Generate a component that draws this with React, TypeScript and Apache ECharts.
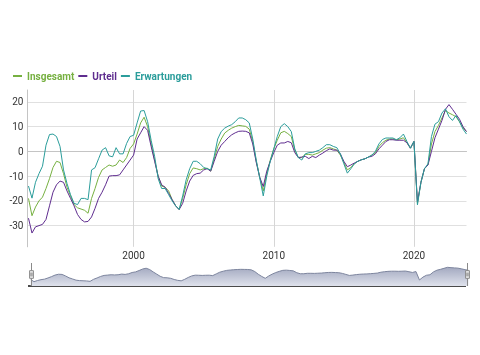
import { useEffect, useRef } from 'react';
import * as echarts from 'echarts';

// Quarterly values, first point = mid 1992, step = one quarter
const START_YEAR = 1992.5;
const STEP = 0.25;

const insgesamt = [
  -19, -26,
  -22.5, -20, -18.5, -15,
  -11, -6.5, -4, -4.5,
  -9, -14.5, -18, -21.5,
  -22.8, -23.3, -23.8, -25,
  -19, -15, -10.5, -7.5,
  -6.5, -5.5, -6, -5.5,
  -3.5, -4.5, -2.5, 1.2,
  3, 7, 11.5, 13.8,
  10, 3, -3.5, -10,
  -14, -14.5, -16, -19.5,
  -22, -23.5, -19, -13.5,
  -9, -6.7, -7, -7.5,
  -7, -6.8, -8, -3,
  2, 5, 7.4, 8.5,
  9.4, 10, 10.5, 10.3,
  10.1, 9, 4, -4,
  -10.5, -16, -9, -3.5,
  1, 4.5, 7.5, 8.1,
  7.2, 6, 0.5, -2.5,
  -2.5, -1.2, -1.2, -1.5,
  -1, -0.5, 0.5, 1.3,
  1.5, 1, 0.5, -1.5,
  -4.5, -7.5, -6.5, -5,
  -4, -3.4, -3, -2.3,
  -1.5, -0.5, 2, 3.5,
  4.5, 5, 5, 4.7,
  5, 5.5, 3.5, 1.3,
  4, -21, -12.5, -7,
  -5.5, 3, 8, 10.5,
  13.5, 16.5, 15.5, 14.8,
  14, 12, 9.5, 8,
];

const urteil = [
  -27, -33,
  -30.5, -30, -29.5, -27.5,
  -22, -16.5, -13.5, -12,
  -12.5, -16, -19, -22,
  -25.5, -27.5, -28.5, -28.3,
  -26.5, -23, -19, -16.5,
  -13.5, -10, -9.8, -9.8,
  -9.5, -7.5, -5.5, -3.5,
  -1.5, 5, 7.5, 10,
  8.5, 2, -4, -10,
  -13.5, -14.5, -17, -19.5,
  -22, -23.5, -21, -16,
  -12, -9.7, -9, -8.8,
  -7.5, -7, -8, -4,
  0, 2.5, 4, 5.5,
  6.7, 7.5, 8.1, 8.2,
  8.1, 7.5, 3, -4.5,
  -10.5, -14.2, -8, -4,
  -0.5, 2.5, 3.4, 3.4,
  4, 3.5, -0.5, -2.5,
  -2.3, -2, -2.9, -2,
  -2.5, -1.5, -0.7, 0.3,
  1, 0.5, 0.5, -1,
  -4, -6.2, -5.5, -4.7,
  -4, -3.4, -3, -2.3,
  -2, -1, 1, 2.5,
  4, 4.7, 4.7, 4.5,
  4.5, 4.5, 3.5, 1.3,
  4, -20.5, -12.5, -7,
  -5.5, 0, 5.5, 9,
  12.5, 17, 18.9, 17,
  15, 13, 10, 8,
];

const erwartungen = [
  -14, -18.9,
  -12.5, -9, -6, 2.5,
  6.8, 7, 6, 2,
  -7.5, -13, -17.5, -21,
  -21.5, -19, -19, -19.5,
  -7.5, -6.6, -3, 0.5,
  1.5, -1.8, -2.2, 1.5,
  -1, -1, 3.2, 6,
  6.5, 11.5, 16.3, 16.5,
  12, 4.5, -2, -11,
  -15, -15, -17.5, -20,
  -22, -23.5, -18, -11.5,
  -7, -4, -4, -5,
  -6.5, -7, -7.5, -2,
  5, 8, 9.4, 10.2,
  10.8, 12, 13.5, 13.5,
  12.8, 11.5, 5, -3.5,
  -10.8, -18, -10, -4,
  1, 6, 10, 11.2,
  10, 8, 1, -2.5,
  -3.5, -1, -0.5, -0.5,
  0, 0.5, 1.5, 2.7,
  2.7, 2, 1.5, -1,
  -5, -8.8, -7, -5,
  -4, -3.4, -3, -2.3,
  -1.5, 0, 3, 4.8,
  5.4, 5.4, 5.4, 4.7,
  5.5, 7, 4, 1.3,
  4, -21.6, -12.5, -7,
  -5, 6, 11, 12,
  15.5, 17.2, 14, 12.5,
  14.5, 12, 9, 7,
];

const seriesNames = ['Insgesamt', 'Urteil', 'Erwartungen'];
const seriesColors = ['#76b041', '#5f2d8f', '#2b9d9b'];
const X_MIN = 1992.43;
const X_MAX = 2023.75;
const Y_MIN = -38.56;
const Y_MAX = 24.8;

const toPoints = (values: number[]) => values.map((v, i) => [START_YEAR + i * STEP, v]);

const HANDLE_ICON =
  'path://M2.5,0 L2.5,8 M0.5,8 L4.5,8 L4.5,16 L0.5,16 Z M2.5,16 L2.5,24 M1.9,10 L1.9,14 M3.1,10 L3.1,14';

export default function App() {
  const ref = useRef<HTMLDivElement>(null);
  useEffect(() => {
    const chart = echarts.init(ref.current!, null, { renderer: 'svg' });
    const font = 'Roboto, "DejaVu Sans", sans-serif';
    const valueSets = [insgesamt, urteil, erwartungen];
    const navArea = {
      color: new echarts.graphic.LinearGradient(0, 0, 0, 1, [
        { offset: 0, color: '#dfe2ec' },
        { offset: 1, color: '#a3a9c0' },
      ]),
      opacity: 1,
    };
    const navLine = { color: '#7d859e', width: 1, opacity: 1 };
    chart.setOption({
      animation: false,
      textStyle: { fontFamily: font },
      legend: {
        left: 8,
        top: 66,
        icon: 'rect',
        itemWidth: 9,
        itemHeight: 2,
        itemGap: 4,
        selectedMode: false,
        data: seriesNames.map((n, i) => ({ name: n, textStyle: { color: seriesColors[i] } })),
        textStyle: { fontSize: 10, fontWeight: 'bold', fontFamily: font },
      },
      grid: { left: 27.5, right: 13.5, top: 90, bottom: 108.2 },
      xAxis: {
        type: 'value',
        min: X_MIN,
        max: X_MAX,
        minInterval: 10,
        maxInterval: 10,
        axisLine: { show: true, lineStyle: { color: '#c4c4c4', width: 1 } },
        axisTick: { show: false },
        axisLabel: {
          showMinLabel: false,
          showMaxLabel: false,
          color: '#333',
          fontSize: 10,
          margin: 4,
          formatter: (v: number) => String(Math.round(v)),
        },
        splitLine: {
          show: true,
          showMinLine: false,
          showMaxLine: false,
          lineStyle: { color: '#d6d6d6', width: 1 },
        },
      },
      yAxis: {
        type: 'value',
        min: Y_MIN,
        max: Y_MAX,
        minInterval: 10,
        maxInterval: 10,
        axisLine: { show: true, lineStyle: { color: '#c4c4c4', width: 1 } },
        axisTick: { show: false },
        axisLabel: {
          showMinLabel: false,
          showMaxLabel: false,
          color: '#333',
          fontSize: 10,
          margin: 4,
        },
        splitLine: {
          show: true,
          showMinLine: false,
          showMaxLine: false,
          lineStyle: { color: '#e0e0e0', width: 1 },
        },
      },
      dataZoom: [
        {
          type: 'slider',
          xAxisIndex: 0,
          filterMode: 'none',
          start: 0,
          end: 100,
          left: 28,
          right: 14,
          top: 263,
          height: 23,
          backgroundColor: 'rgba(0,0,0,0)',
          borderColor: 'rgba(0,0,0,0)',
          fillerColor: 'rgba(0,0,0,0)',
          showDetail: false,
          brushSelect: false,
          moveHandleSize: 0,
          moveHandleStyle: { opacity: 0 },
          handleIcon: HANDLE_ICON,
          handleSize: '100%',
          handleStyle: { color: '#f2f2f2', borderColor: '#8a8a8a', borderWidth: 1 },
          emphasis: { handleStyle: { color: '#f2f2f2', borderColor: '#8a8a8a', borderWidth: 1 } },
          dataBackground: { lineStyle: navLine, areaStyle: navArea },
          selectedDataBackground: { lineStyle: navLine, areaStyle: navArea },
        },
      ],
      series: valueSets.map((vals, i) => ({
        type: 'line',
        name: seriesNames[i],
        data: toPoints(vals),
        showSymbol: false,
        symbol: 'none',
        lineStyle: { width: 1, color: seriesColors[i] },
        itemStyle: { color: seriesColors[i] },
      })),
      graphic: [
        {
          type: 'line',
          silent: true,
          shape: { x1: 28, y1: 286, x2: 466, y2: 286 },
          style: { stroke: '#4a4a4a', lineWidth: 2 },
        },
      ],
    });
    return () => chart.dispose();
  }, []);
  return <div ref={ref} style={{ position: 'fixed', left: 0, top: 0, width: 480, height: 355 }} />;
}
